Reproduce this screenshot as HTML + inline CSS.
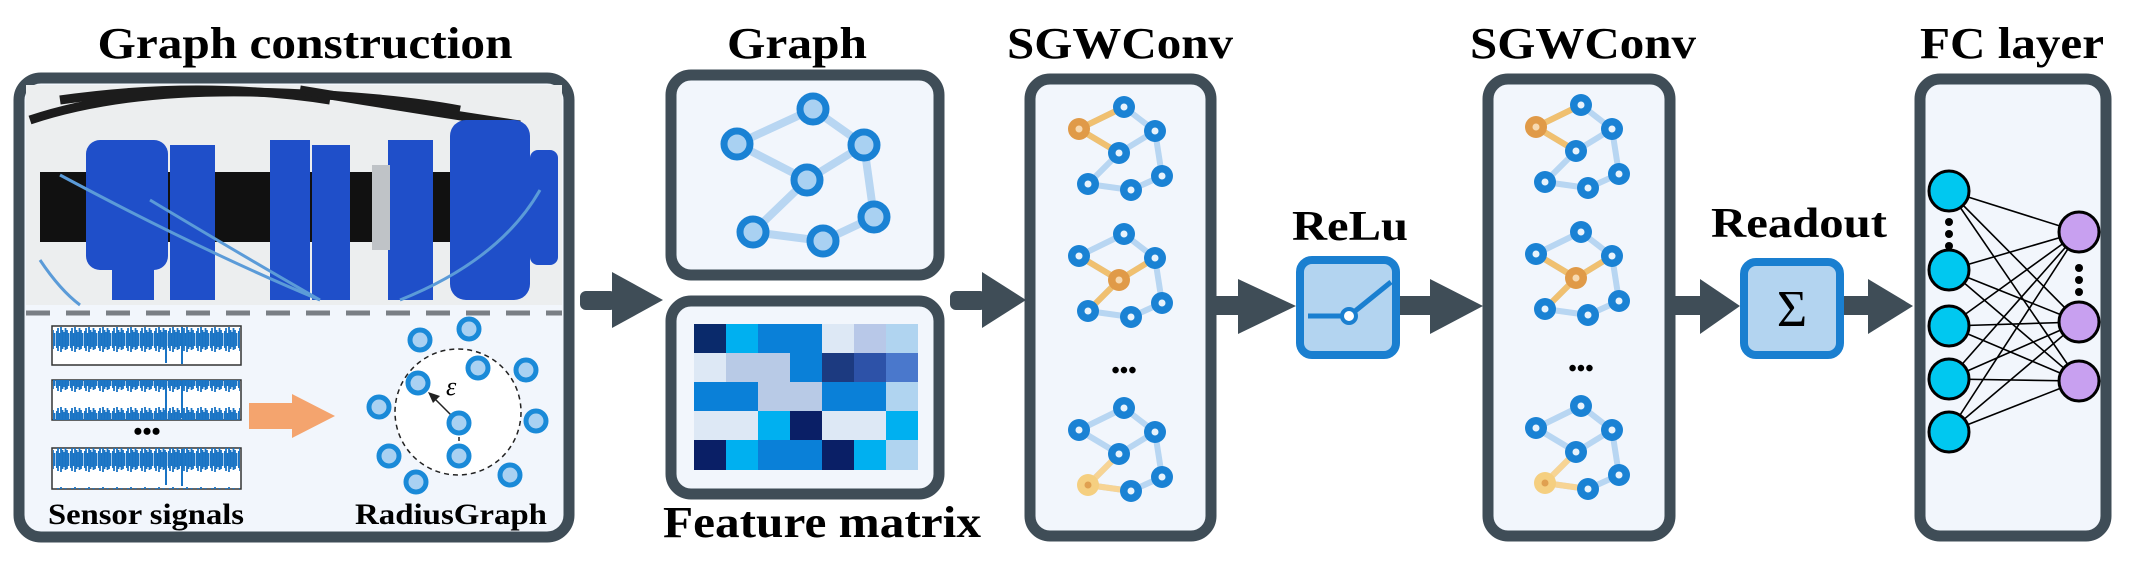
<!DOCTYPE html>
<html><head><meta charset="utf-8"><style>
html,body{margin:0;padding:0;background:#fff;}
svg{display:block;}
.t{font-family:"Liberation Serif","Times New Roman",serif;font-weight:bold;fill:#000;}
</style></head><body>
<svg width="2131" height="577" viewBox="0 0 2131 577" xmlns="http://www.w3.org/2000/svg">
<defs>
<pattern id="wave" x="0" y="0" width="14" height="40" patternUnits="userSpaceOnUse">
  <g stroke="#1a74c4" stroke-width="1.8">
  <line x1="0.5" y1="11" x2="0.5" y2="28"/><line x1="2" y1="8" x2="2" y2="31"/><line x1="3.5" y1="13" x2="3.5" y2="26"/>
  <line x1="5" y1="7" x2="5" y2="32"/><line x1="6.5" y1="10" x2="6.5" y2="29"/><line x1="8" y1="12" x2="8" y2="27"/>
  <line x1="9.5" y1="8" x2="9.5" y2="30"/><line x1="11" y1="10" x2="11" y2="29"/><line x1="12.5" y1="13" x2="12.5" y2="26"/>
  </g>
</pattern>
<g id="mg">
  <g stroke="#b8d6f2" stroke-width="6" fill="none">
    <line x1="45" y1="0" x2="0" y2="22"/><line x1="45" y1="0" x2="76" y2="24"/>
    <line x1="0" y1="22" x2="40" y2="46"/><line x1="76" y1="24" x2="40" y2="46"/>
    <line x1="76" y1="24" x2="83" y2="69"/><line x1="40" y1="46" x2="9" y2="77"/>
    <line x1="9" y1="77" x2="52" y2="83"/><line x1="52" y1="83" x2="83" y2="69"/>
  </g>
</g>
<g id="nd"><circle r="11" fill="#1a82d4"/><circle r="3.5" fill="#e8f3fc"/></g>
<g id="rn"><circle r="10" fill="#a9d1f2" stroke="#1a8ad8" stroke-width="5"/></g>
<g id="bn"><circle r="13" fill="#a9d1f2" stroke="#1a82d4" stroke-width="7"/></g>
</defs>

<text class="t" x="305" y="58" font-size="44" text-anchor="middle" textLength="415" lengthAdjust="spacingAndGlyphs">Graph construction</text>
<text class="t" x="797" y="58" font-size="44" text-anchor="middle" textLength="140" lengthAdjust="spacingAndGlyphs">Graph</text>
<text class="t" x="1120" y="58" font-size="44" text-anchor="middle" textLength="226" lengthAdjust="spacingAndGlyphs">SGWConv</text>
<text class="t" x="1583" y="58" font-size="44" text-anchor="middle" textLength="226" lengthAdjust="spacingAndGlyphs">SGWConv</text>
<text class="t" x="2012" y="58" font-size="44" text-anchor="middle" textLength="184" lengthAdjust="spacingAndGlyphs">FC layer</text>
<text class="t" x="1350" y="240" font-size="42" text-anchor="middle" textLength="116" lengthAdjust="spacingAndGlyphs">ReLu</text>
<text class="t" x="1799" y="237" font-size="42" text-anchor="middle" textLength="176" lengthAdjust="spacingAndGlyphs">Readout</text>
<text class="t" x="822" y="537" font-size="44" text-anchor="middle" textLength="318" lengthAdjust="spacingAndGlyphs">Feature matrix</text>

<rect x="19" y="78" width="550" height="459" rx="22" fill="#f2f6fc" stroke="#3f4d57" stroke-width="11"/>
<rect x="26" y="85" width="536" height="220" fill="#eceeef"/>
<g stroke="#1c1c1c" stroke-width="9" fill="none">
<path d="M30 120 Q120 90 250 92 Q380 95 460 110"/><path d="M60 100 Q200 80 330 100"/><path d="M300 90 Q420 110 520 125"/>
</g>
<rect x="40" y="172" width="510" height="70" fill="#111"/>
<g fill="#1f4fc9">
<rect x="86" y="140" width="82" height="130" rx="14"/>
<rect x="112" y="240" width="42" height="60"/>
<rect x="170" y="145" width="45" height="155"/>
<rect x="270" y="140" width="40" height="160"/>
<rect x="312" y="145" width="38" height="155"/>
<rect x="388" y="140" width="45" height="160"/>
<rect x="450" y="120" width="80" height="180" rx="16"/>
<rect x="530" y="150" width="28" height="115" rx="8"/>
</g>
<rect x="372" y="165" width="18" height="85" fill="#bfc3c7"/>
<g stroke="#5b9bd8" stroke-width="3" fill="none">
<path d="M60 175 Q200 250 320 300"/><path d="M150 200 Q250 260 320 300"/><path d="M540 190 Q500 260 400 300"/><path d="M40 260 Q60 290 80 305"/>
</g>
<line x1="26" y1="313" x2="562" y2="313" stroke="#7a7f85" stroke-width="5" stroke-dasharray="24 16"/>
<g stroke="#333" stroke-width="1.5" fill="#fff">
<rect x="52" y="326" width="189" height="39"/>
<rect x="52" y="380" width="189" height="40"/>
<rect x="52" y="448" width="189" height="41"/>
</g>
<rect x="53" y="326" width="187" height="39" fill="url(#wave)"/>
<rect x="53" y="380" width="187" height="40" fill="url(#wave)"/>
<rect x="53" y="448" width="187" height="41" fill="url(#wave)"/>
<g fill="#1a74c4">
<rect x="165" y="330" width="2" height="33"/><rect x="181" y="327" width="2" height="37"/>
<rect x="165" y="384" width="2" height="33"/><rect x="181" y="381" width="2" height="37"/>
<rect x="165" y="452" width="2" height="33"/><rect x="181" y="449" width="2" height="37"/>
</g>
<text class="t" x="147" y="440" font-size="26" text-anchor="middle">•••</text>
<polygon points="249,403 292,403 292,394 335,416 292,438 292,429 249,429" fill="#f4a46e"/>
<circle cx="458" cy="412" r="63" fill="#fff" stroke="#222" stroke-width="1.5" stroke-dasharray="5 4"/>
<line x1="459" y1="423" x2="459" y2="456" stroke="#222" stroke-width="1.5" stroke-dasharray="4 3"/>
<line x1="459" y1="423" x2="434" y2="398" stroke="#222" stroke-width="1.5"/>
<polygon points="428,392 440,396 433,403" fill="#222"/>
<text x="446" y="395" style="font-family:'Liberation Serif',serif;font-style:italic;font-size:26px;fill:#000">ε</text>
<use href="#rn" x="469" y="329"/><use href="#rn" x="420" y="340"/><use href="#rn" x="478" y="368"/>
<use href="#rn" x="526" y="370"/><use href="#rn" x="418" y="383"/><use href="#rn" x="379" y="407"/>
<use href="#rn" x="459" y="423"/><use href="#rn" x="536" y="421"/><use href="#rn" x="459" y="456"/>
<use href="#rn" x="389" y="456"/><use href="#rn" x="510" y="475"/><use href="#rn" x="416" y="482"/>
<text class="t" x="146" y="524" font-size="30" text-anchor="middle" textLength="196" lengthAdjust="spacingAndGlyphs">Sensor signals</text>
<text class="t" x="451" y="524" font-size="30" text-anchor="middle" textLength="192" lengthAdjust="spacingAndGlyphs">RadiusGraph</text>

<g fill="#3f4d57">
<rect x="580" y="291" width="36" height="19" rx="6"/><polygon points="612,272 663,300 612,328"/>
<rect x="950" y="291" width="36" height="19" rx="6"/><polygon points="982,272 1026,300 982,328"/>
<rect x="1209" y="296" width="36" height="19"/><polygon points="1238,279 1296,306 1238,334"/>
<rect x="1400" y="296" width="36" height="19"/><polygon points="1430,279 1483,306 1430,334"/>
<rect x="1675" y="296" width="30" height="19"/><polygon points="1700,279 1740,306 1700,334"/>
<rect x="1844" y="296" width="30" height="19"/><polygon points="1868,279 1913,306 1868,334"/>
</g>

<rect x="671" y="75" width="268" height="200" rx="20" fill="#f2f6fc" stroke="#3f4d57" stroke-width="11"/>
<g stroke="#b8d6f2" stroke-width="8">
<line x1="813" y1="109" x2="737" y2="144"/><line x1="813" y1="109" x2="864" y2="145"/>
<line x1="737" y1="144" x2="807" y2="180"/><line x1="864" y1="145" x2="807" y2="180"/>
<line x1="864" y1="145" x2="874" y2="217"/><line x1="807" y1="180" x2="753" y2="232"/>
<line x1="753" y1="232" x2="823" y2="241"/><line x1="823" y1="241" x2="874" y2="217"/>
</g>
<use href="#bn" x="813" y="109"/><use href="#bn" x="737" y="144"/><use href="#bn" x="864" y="145"/>
<use href="#bn" x="807" y="180"/><use href="#bn" x="753" y="232"/><use href="#bn" x="823" y="241"/><use href="#bn" x="874" y="217"/>

<rect x="671" y="301" width="268" height="193" rx="20" fill="#f2f6fc" stroke="#3f4d57" stroke-width="11"/>
<g>
<rect x="694" y="324" width="32" height="30" fill="#0a2a6b"/><rect x="726" y="324" width="32" height="30" fill="#00b0f0"/><rect x="758" y="324" width="32" height="30" fill="#0a80d8"/><rect x="790" y="324" width="32" height="30" fill="#0a80d8"/><rect x="822" y="324" width="32" height="30" fill="#dde8f5"/><rect x="854" y="324" width="32" height="30" fill="#b8c8e8"/><rect x="886" y="324" width="32" height="30" fill="#b0d4f0"/>
<rect x="694" y="353" width="32" height="30" fill="#dde8f5"/><rect x="726" y="353" width="32" height="30" fill="#b8cae6"/><rect x="758" y="353" width="32" height="30" fill="#b8cae6"/><rect x="790" y="353" width="32" height="30" fill="#0a80d8"/><rect x="822" y="353" width="32" height="30" fill="#1c3a80"/><rect x="854" y="353" width="32" height="30" fill="#2d52a8"/><rect x="886" y="353" width="32" height="30" fill="#4a78cc"/>
<rect x="694" y="382" width="32" height="30" fill="#0a80d8"/><rect x="726" y="382" width="32" height="30" fill="#0a80d8"/><rect x="758" y="382" width="32" height="30" fill="#b8cae6"/><rect x="790" y="382" width="32" height="30" fill="#b8cae6"/><rect x="822" y="382" width="32" height="30" fill="#0a80d8"/><rect x="854" y="382" width="32" height="30" fill="#0a80d8"/><rect x="886" y="382" width="32" height="30" fill="#b0d4f0"/>
<rect x="694" y="411" width="32" height="30" fill="#dde8f5"/><rect x="726" y="411" width="32" height="30" fill="#dde8f5"/><rect x="758" y="411" width="32" height="30" fill="#00b0f0"/><rect x="790" y="411" width="32" height="30" fill="#0a1f66"/><rect x="822" y="411" width="32" height="30" fill="#dde8f5"/><rect x="854" y="411" width="32" height="30" fill="#dde8f5"/><rect x="886" y="411" width="32" height="30" fill="#00b0f0"/>
<rect x="694" y="440" width="32" height="30" fill="#0a1f66"/><rect x="726" y="440" width="32" height="30" fill="#00b0f0"/><rect x="758" y="440" width="32" height="30" fill="#0a80d8"/><rect x="790" y="440" width="32" height="30" fill="#0a80d8"/><rect x="822" y="440" width="32" height="30" fill="#0a1f66"/><rect x="854" y="440" width="32" height="30" fill="#00b0f0"/><rect x="886" y="440" width="32" height="30" fill="#b0d4f0"/>
</g>

<rect x="1030" y="79" width="181" height="457" rx="20" fill="#f2f6fc" stroke="#3f4d57" stroke-width="11"/>
<rect x="1488" y="79" width="182" height="457" rx="20" fill="#f2f6fc" stroke="#3f4d57" stroke-width="11"/>
<g id="col">
 <g transform="translate(1079,107)">
  <use href="#mg"/>
  <g stroke="#f0c070" stroke-width="6"><line x1="45" y1="0" x2="0" y2="22"/><line x1="0" y1="22" x2="40" y2="46"/></g>
  <use href="#nd" x="45" y="0"/><circle cx="0" cy="22" r="11" fill="#e09a48"/><circle cx="0" cy="22" r="3.5" fill="#f7d9b0"/>
  <use href="#nd" x="76" y="24"/><use href="#nd" x="40" y="46"/><use href="#nd" x="9" y="77"/><use href="#nd" x="52" y="83"/><use href="#nd" x="83" y="69"/>
 </g>
 <g transform="translate(1079,234)">
  <use href="#mg"/>
  <g stroke="#f0c070" stroke-width="6"><line x1="0" y1="22" x2="40" y2="46"/><line x1="76" y1="24" x2="40" y2="46"/><line x1="40" y1="46" x2="9" y2="77"/></g>
  <use href="#nd" x="45" y="0"/><use href="#nd" x="0" y="22"/><use href="#nd" x="76" y="24"/>
  <circle cx="40" cy="46" r="11" fill="#e09a48"/><circle cx="40" cy="46" r="3.5" fill="#f7d9b0"/>
  <use href="#nd" x="9" y="77"/><use href="#nd" x="52" y="83"/><use href="#nd" x="83" y="69"/>
 </g>
 <text class="t" x="1124" y="378" font-size="24" text-anchor="middle">•••</text>
 <g transform="translate(1079,408)">
  <use href="#mg"/>
  <g stroke="#f7d494" stroke-width="6"><line x1="40" y1="46" x2="9" y2="77"/><line x1="9" y1="77" x2="52" y2="83"/></g>
  <use href="#nd" x="45" y="0"/><use href="#nd" x="0" y="22"/><use href="#nd" x="76" y="24"/><use href="#nd" x="40" y="46"/>
  <circle cx="9" cy="77" r="11" fill="#f5cf80"/><circle cx="9" cy="77" r="3.5" fill="#e0a050"/>
  <use href="#nd" x="52" y="83"/><use href="#nd" x="83" y="69"/>
 </g>
</g>
<use href="#col" x="457" y="-2"/>

<rect x="1300" y="260" width="96" height="95" rx="12" fill="#b3d4f0" stroke="#1a7fd0" stroke-width="8"/>
<line x1="1308" y1="316" x2="1349" y2="316" stroke="#1a7fd0" stroke-width="5"/>
<line x1="1349" y1="316" x2="1391" y2="282" stroke="#1a7fd0" stroke-width="5"/>
<circle cx="1349" cy="316" r="7" fill="#fff" stroke="#1a7fd0" stroke-width="4"/>
<rect x="1744" y="262" width="96" height="93" rx="12" fill="#b3d4f0" stroke="#1a7fd0" stroke-width="8"/>
<text x="1792" y="326" text-anchor="middle" style="font-family:'Liberation Serif',serif;font-weight:normal;font-size:52px;fill:#000">Σ</text>

<rect x="1920" y="79" width="186" height="457" rx="20" fill="#f2f6fc" stroke="#3f4d57" stroke-width="11"/>
<g stroke="#000" stroke-width="1.6">
<line x1="1949" y1="191" x2="2079" y2="232"/><line x1="1949" y1="191" x2="2079" y2="322"/><line x1="1949" y1="191" x2="2079" y2="381"/>
<line x1="1949" y1="270" x2="2079" y2="232"/><line x1="1949" y1="270" x2="2079" y2="322"/><line x1="1949" y1="270" x2="2079" y2="381"/>
<line x1="1949" y1="326" x2="2079" y2="232"/><line x1="1949" y1="326" x2="2079" y2="322"/><line x1="1949" y1="326" x2="2079" y2="381"/>
<line x1="1949" y1="379" x2="2079" y2="232"/><line x1="1949" y1="379" x2="2079" y2="322"/><line x1="1949" y1="379" x2="2079" y2="381"/>
<line x1="1949" y1="432" x2="2079" y2="232"/><line x1="1949" y1="432" x2="2079" y2="322"/><line x1="1949" y1="432" x2="2079" y2="381"/>
</g>
<g fill="#00c8f0" stroke="#000" stroke-width="3">
<circle cx="1949" cy="191" r="20"/><circle cx="1949" cy="270" r="20"/><circle cx="1949" cy="326" r="20"/><circle cx="1949" cy="379" r="20"/><circle cx="1949" cy="432" r="20"/>
</g>
<g fill="#c8a0f0" stroke="#000" stroke-width="3">
<circle cx="2079" cy="232" r="20"/><circle cx="2079" cy="322" r="20"/><circle cx="2079" cy="381" r="20"/>
</g>
<g fill="#000">
<circle cx="1949" cy="222" r="4"/><circle cx="1949" cy="234" r="4"/><circle cx="1949" cy="246" r="4"/>
<circle cx="2079" cy="268" r="4"/><circle cx="2079" cy="280" r="4"/><circle cx="2079" cy="292" r="4"/>
</g>
</svg>
</body></html>
